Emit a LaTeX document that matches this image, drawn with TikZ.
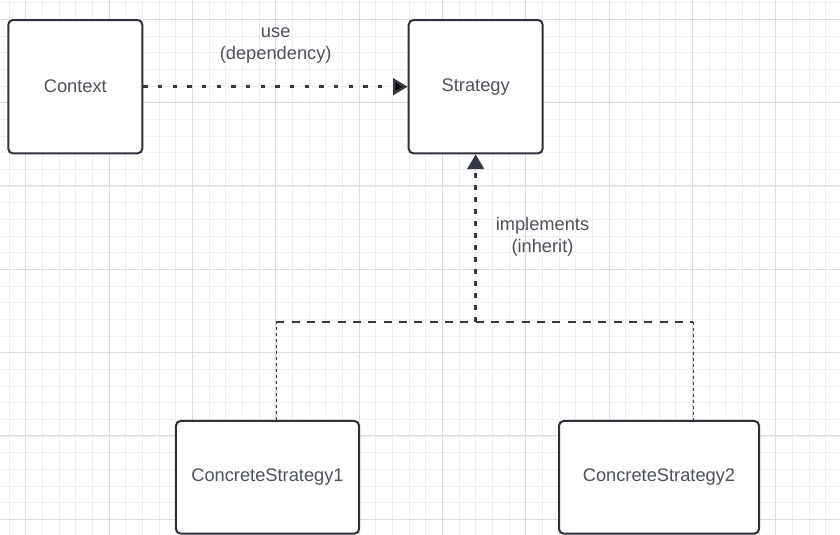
\documentclass[tikz,border=0pt]{standalone}
\usepackage{fontspec}
\setmainfont{Liberation Sans}
\usetikzlibrary{arrows.meta}
\definecolor{gridminor}{HTML}{EEEEEE}
\definecolor{gridmajor}{HTML}{DCDCDC}
\definecolor{boxline}{HTML}{2D3038}
\definecolor{arrowline}{HTML}{343842}
\definecolor{labeltext}{HTML}{4D525A}
\tikzset{
  classbox/.style={draw=boxline, fill=white, line width=1.5pt, rounded corners=3.5pt,
    text=labeltext, font=\fontsize{13.7}{16.5}\selectfont},
  edgelabel/.style={text=labeltext, align=center, font=\fontsize{13.7}{16.5}\selectfont},
  usearrow/.style={draw=arrowline, line width=1.9pt, dash pattern=on 3.3pt off 7.7pt,
    -{Triangle[length=11pt,width=12.5pt]}},
  wideline/.style={draw=arrowline, line width=1.8pt, dash pattern=on 6pt off 5.5pt},
  thinline/.style={draw=arrowline, line width=1.1pt, dash pattern=on 2.3pt off 2.2pt}
}
\begin{document}
\begin{tikzpicture}[x=0.75pt, y=-0.75pt]
\clip (0,0) rectangle (840,535);
    %grid
    \fill[white] (0,0) rectangle (840,535);
    \foreach \i in {0,...,50} {
        \draw[gridminor, line width=0.75pt] (9+16.667*\i,0) -- (9+16.667*\i,535);
        \draw[gridminor, line width=0.75pt] (0,2.7+16.667*\i) -- (840,2.7+16.667*\i);
    }
    \foreach \i in {0,...,9} {
        \draw[gridmajor, line width=0.75pt] (25.7+83.333*\i,0) -- (25.7+83.333*\i,535);
        \draw[gridmajor, line width=0.75pt] (0,19.3+83.333*\i) -- (840,19.3+83.333*\i);
    }
    %classes
    \node[classbox, minimum width=100.5pt, minimum height=100pt] (context) at (75.3,86.7) {Context};
    \node[classbox, minimum width=100.5pt, minimum height=100pt] (strategy) at (475.7,86.7) {Strategy};
    \node[classbox, minimum width=137.3pt, minimum height=84.5pt] (cs1) at (267.5,477.3) {ConcreteStrategy1};
    \node[classbox, minimum width=150pt, minimum height=84.5pt] (cs2) at (659,477.3) {ConcreteStrategy2};
    %use
    \node[edgelabel] (uselabel) at (275.7,45.5) {use\\(dependency)};
    \path[usearrow] (context) edge (strategy);
    %implements
    \coordinate (hub) at (475.7,321.7);
    \coordinate (left) at (276.3,321.7);
    \coordinate (right) at (693.3,321.7);
    \node[edgelabel] (impllabel) at (542.5,236.5) {implements\\(inherit)};
    \draw[thinline] (cs1.north -| left) -- (left);
    \draw[wideline] (left) -- (right);
    \draw[thinline] (right) -- (cs2.north -| right);
    \draw[usearrow, dash pattern=on 3.7pt off 5.3pt] (hub) -- (strategy.south);
\end{tikzpicture}
\end{document}
